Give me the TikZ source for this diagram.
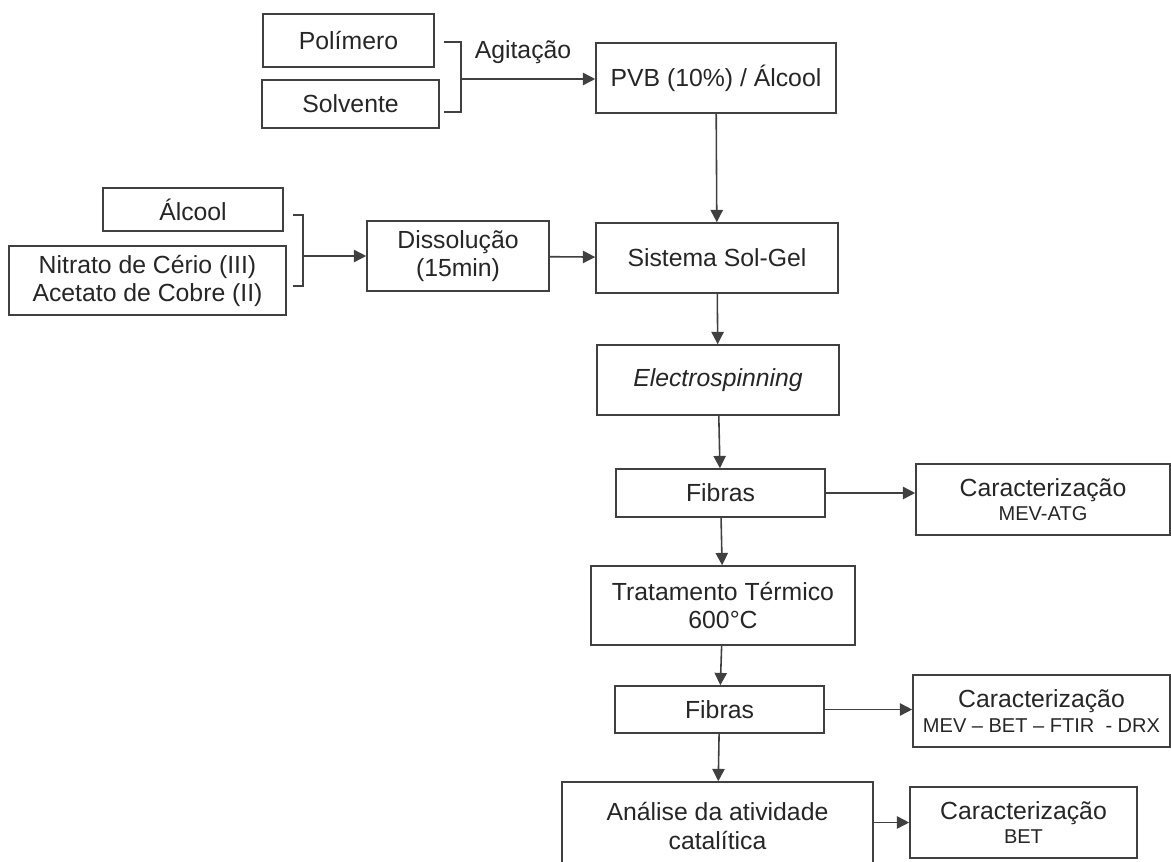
\documentclass[tikz,border=0pt]{standalone}
\usepackage{fontspec}
\setmainfont{Liberation Sans}
\usetikzlibrary{arrows.meta}
\newcommand{\pequeno}{\fontsize{11.4}{13}\selectfont}

\begin{document}
\begin{tikzpicture}[x=0.02cm,y=-0.02cm,
  every node/.style={font=\fontsize{14.1}{16}\selectfont, text=black!85},
  caixa/.style 2 args={draw=black!75, line width=0.9pt, rectangle, align=center,
    inner sep=0pt, minimum width=#1*0.02cm, minimum height=#2*0.02cm},
  seta/.style={draw=black!75, line width=0.9pt, -{Triangle[length=7pt,width=7pt]}},
  chave/.style={draw=black!75, line width=0.9pt}]
\useasboundingbox (0,0) rectangle (1171,862);

%% entradas
\node[caixa={171}{53}] (pol) at (348.5,40.5) {Polímero};
\node[caixa={177}{48}] (sol) at (350.5,104) {Solvente};
\node[caixa={180}{43}] (alc) at (193,209.5) {Álcool};
\node[caixa={277}{69}] (nit) at (147.5,280.5) {Nitrato de Cério (III)\\Acetato de Cobre (II)};

%% etapas
\node[caixa={240}{70}] (pvb) at (716,78) {PVB (10\%) / Álcool};
\node[caixa={182}{70}] (dis) at (458,256) {Dissolução\\(15min)};
\node[caixa={242}{70}] (sg) at (717,258) {Sistema Sol-Gel};
\node[caixa={242}{70}] (es) at (718,380) {\itshape Electrospinning};
\node[caixa={209}{48}] (fib1) at (720.5,493) {Fibras};
\node[caixa={264}{79}] (trat) at (723,605.5) {Tratamento Térmico\\600°C};
\node[caixa={209}{47}] (fib2) at (719.5,709.5) {Fibras};
\node[caixa={311}{88}] (ana) at (717.5,826) {Análise da atividade\\catalítica};

%% caracterizacao
\node[caixa={254}{71}] (car1) at (1043,499.5) {Caracterização\\[-2pt]{\pequeno MEV-ATG}};
\node[caixa={257}{72}] (car2) at (1041.5,711) {Caracterização\\[-2pt]{\pequeno MEV -- BET -- FTIR\ \ - DRX}};
\node[caixa={227}{71}] (car3) at (1023.5,822.5) {Caracterização\\[-2pt]{\pequeno BET}};

\node (agit) at (523,52) {Agitação};

%% chaves
\coordinate (b1) at (461,79);
\coordinate (b2) at (303,256);
\draw[chave] (444,42) -- (461,42) -- (461,112) -- (444,112);
\draw[chave] (293,215) -- (303,215) -- (303,286) -- (293,286);

%% setas
\draw[seta] (b1) -- (b1 -| pvb.west);
\draw[seta] (b2) -- (b2 -| dis.west);
\draw[seta] (dis) -- (sg);
\draw[seta] (pvb) -- (sg);
\draw[seta] (sg) -- (es);
\draw[seta] (es) -- (fib1);
\draw[seta] (fib1) -- (trat);
\draw[seta] (trat) -- (fib2);
\draw[seta] (fib2) -- (ana);
\draw[seta] (fib1.east) -- (fib1.east -| car1.west);
\draw[seta] (fib2.east) -- (fib2.east -| car2.west);
\draw[seta] (ana.east |- car3) -- (car3.west);
\end{tikzpicture}
\end{document}
